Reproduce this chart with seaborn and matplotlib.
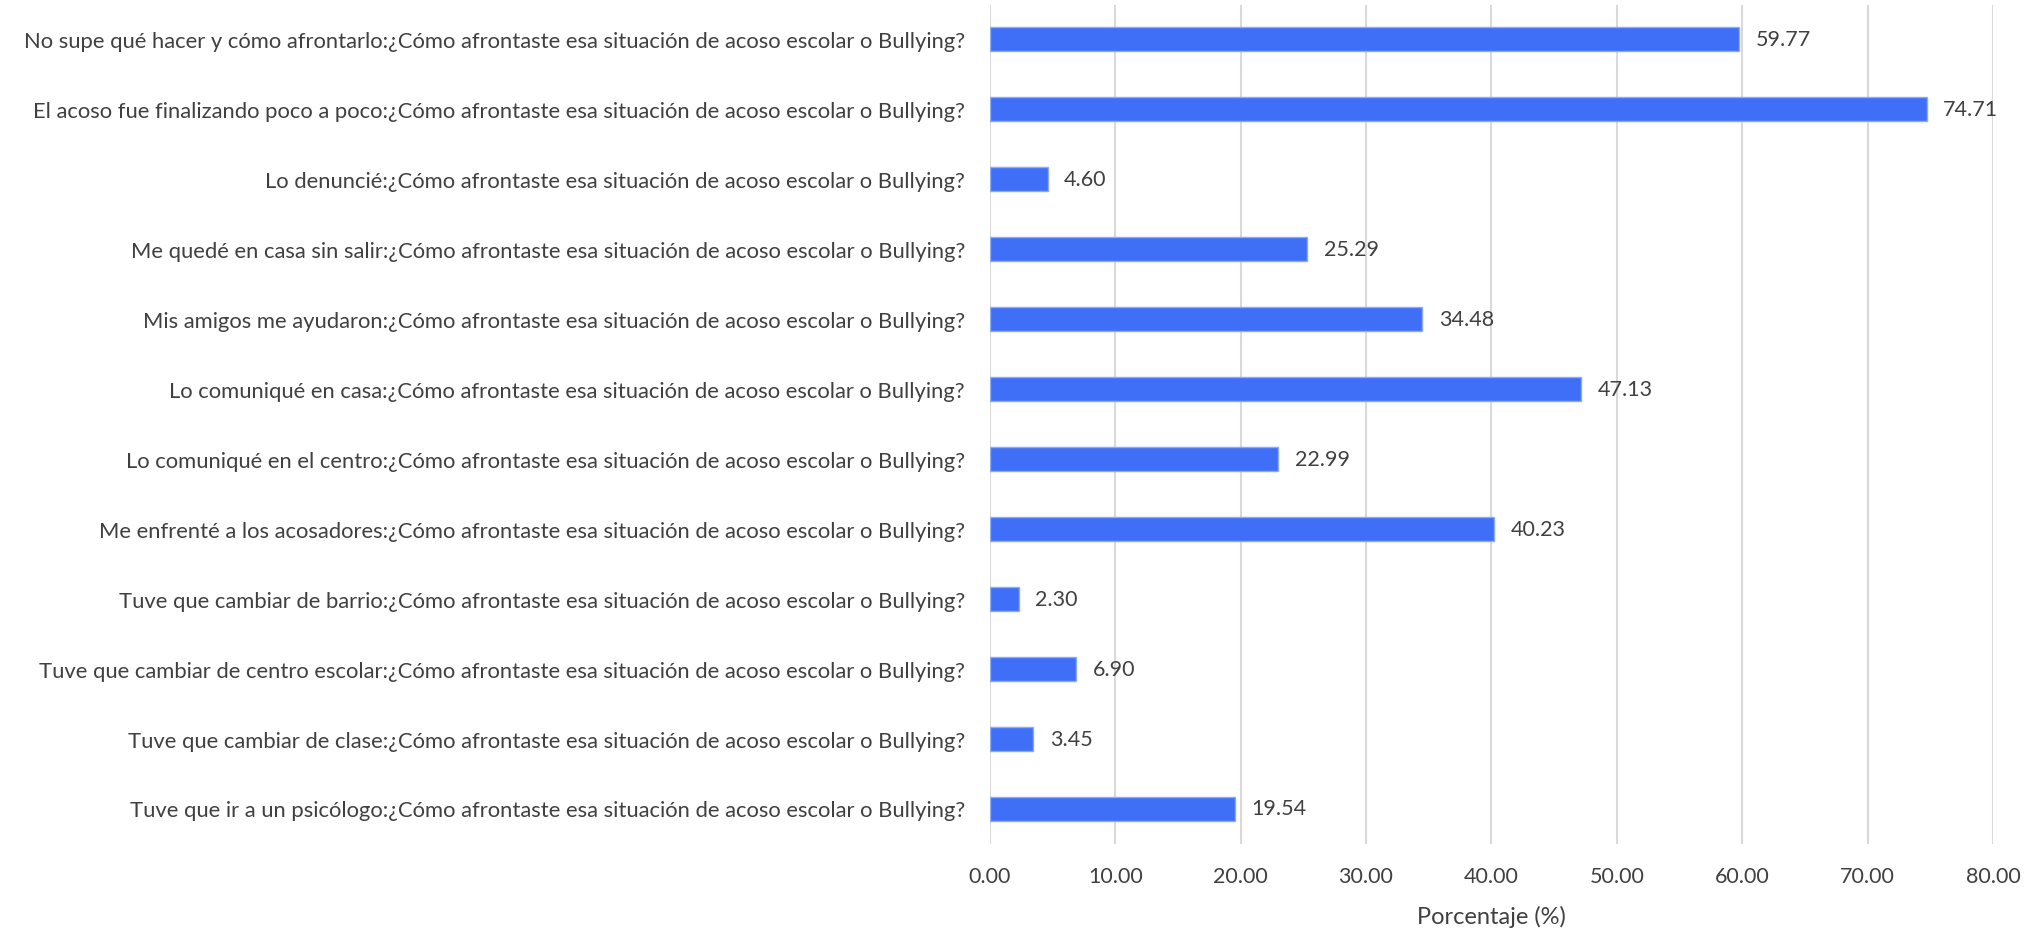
import pandas as pd
import matplotlib.pyplot as plt
import seaborn as sns

# Respuestas (de arriba a abajo) y porcentajes
pregunta = "¿Cómo afrontaste esa situación de acoso escolar o Bullying?"
respuestas = [
    "No supe qué hacer y cómo afrontarlo",
    "El acoso fue finalizando poco a poco",
    "Lo denuncié",
    "Me quedé en casa sin salir",
    "Mis amigos me ayudaron",
    "Lo comuniqué en casa",
    "Lo comuniqué en el centro",
    "Me enfrenté a los acosadores",
    "Tuve que cambiar de barrio",
    "Tuve que cambiar de centro escolar",
    "Tuve que cambiar de clase",
    "Tuve que ir a un psicólogo",
]
porcentajes = [59.77, 74.71, 4.60, 25.29, 34.48, 47.13, 22.99, 40.23, 2.30, 6.90, 3.45, 19.54]
x_ticks = [0, 10, 20, 30, 40, 50, 60, 70, 80]

df = pd.DataFrame({
    'etiqueta': [f"{r}:{pregunta}" for r in respuestas],
    'porcentaje': porcentajes,
})

sns.set_theme(style='white')
plt.rcParams['font.family'] = ['Lato', 'DejaVu Sans']
texto = '#404040'

fig = plt.figure(figsize=(20.44, 9.295), dpi=100)
ax = fig.add_axes([0.4843, 0.0915, 0.4907, 0.9031])

sns.barplot(data=df, y='etiqueta', x='porcentaje', order=df['etiqueta'],
            orient='h', color='#3F6FF7', saturation=1, width=0.343,
            edgecolor='#8FAAF5', linewidth=1, ax=ax)

ax.bar_label(ax.containers[0], fmt='%.2f', padding=12, fontsize=15.5, color=texto)

ax.set_xlim(0, 80)
ax.set_ylim(11.5, -0.5)
ax.set_xticks(x_ticks)
ax.set_xticklabels([f"{t:.2f}" for t in x_ticks])
ax.xaxis.grid(True, color='#D9D9D9', linewidth=1.5)
ax.yaxis.grid(False)
ax.set_axisbelow(True)
for s in ax.spines.values():
    s.set_visible(False)

ax.tick_params(axis='y', length=0, pad=18, labelsize=15.8, labelcolor=texto)
ax.tick_params(axis='x', length=0, pad=16, labelsize=15.5, labelcolor=texto)
ax.set_ylabel('')
ax.set_xlabel('Porcentaje (%)', fontsize=17, color=texto, labelpad=14)

fig.savefig('out.png', dpi=100)
